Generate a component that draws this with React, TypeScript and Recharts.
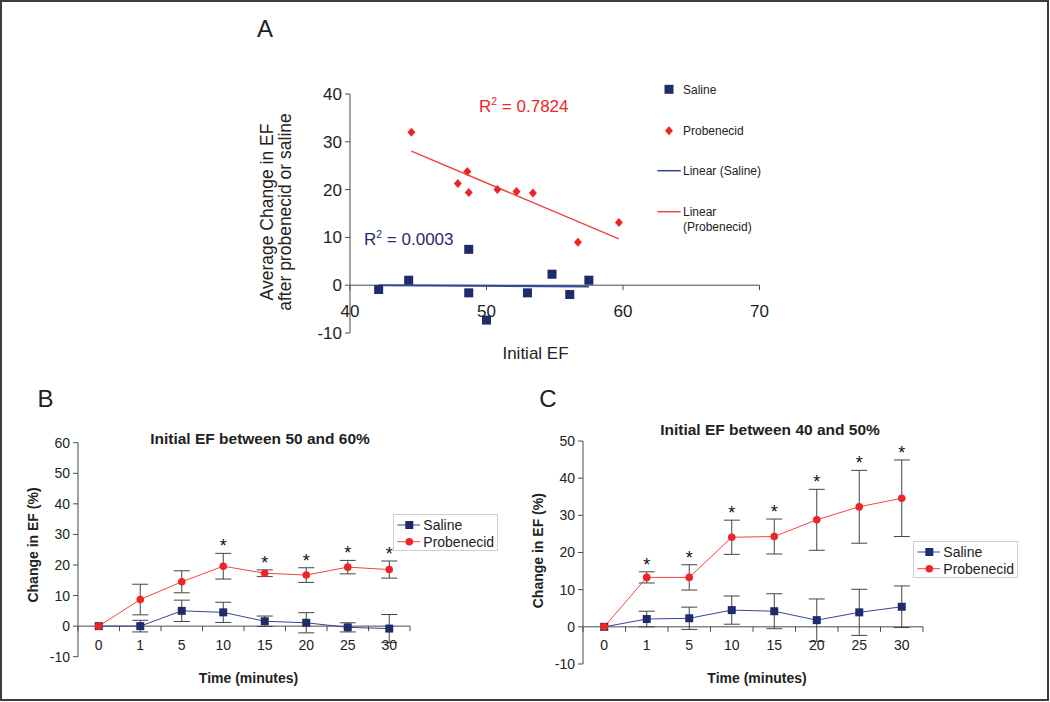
import React from 'react';
import {
  ScatterChart,
  Scatter,
  ComposedChart,
  Line,
  ErrorBar,
  XAxis,
  YAxis,
  ReferenceLine,
  Legend,
} from 'recharts';

const FONT = '"Liberation Sans", Arial, sans-serif';
const NAVY = '#1f2c6c';
const NAVY_LINE = '#34469a';
const RED = '#ee2526';
const RED_LINE = '#f04545';
const AXIS = '#4a4a4a';
const TXT = '#222';

// Panel A - scatter of initial EF vs average change
const SAL_EF = [42.1, 44.3, 48.7, 48.7, 50.0, 53.0, 54.8, 56.1, 57.5];
const SAL_CHANGE = [-0.9, 1.05, 7.5, -1.6, -7.3, -1.6, 2.3, -1.95, 1.05];
const PRO_EF = [44.5, 47.9, 48.6, 48.7, 50.8, 52.2, 53.4, 56.7, 59.7];
const PRO_CHANGE = [32.0, 21.3, 23.8, 19.4, 20.0, 19.6, 19.3, 9.0, 13.1];
const A_X_TICKS = [40, 50, 60, 70];
const A_Y_TICKS = [-10, 0, 10, 20, 30, 40];

// Panels B and C - time course
const TIME = ['0', '1', '5', '10', '15', '20', '25', '30'];

const B_SAL = [0, 0, 5.0, 4.5, 1.6, 1.1, -0.4, -0.8];
const B_SAL_ERR = [0, 1.9, 3.5, 3.3, 1.7, 3.3, 1.5, 4.6];
const B_PRO = [0, 8.7, 14.5, 19.6, 17.3, 16.7, 19.3, 18.5];
const B_PRO_ERR = [0, 5.0, 3.6, 4.2, 1.1, 2.4, 2.2, 2.8];
const B_SIG = [false, false, false, true, true, true, true, true];
const B_Y_TICKS = [-10, 0, 10, 20, 30, 40, 50, 60];

const C_SAL = [0, 2.1, 2.3, 4.5, 4.2, 1.8, 3.9, 5.4];
const C_SAL_ERR = [0, 2.1, 3.0, 3.8, 4.7, 5.7, 6.2, 5.6];
const C_PRO = [0, 13.3, 13.3, 24.1, 24.3, 28.8, 32.3, 34.6];
const C_PRO_ERR = [0, 1.5, 3.4, 4.6, 4.7, 8.2, 9.8, 10.3];
const C_SIG = [false, true, true, true, true, true, true, true];
const C_Y_TICKS = [-10, 0, 10, 20, 30, 40, 50];

const toPoints = (xs: number[], ys: number[]) => xs.map((x, i) => ({ x, y: ys[i] }));

// least squares trend, drawn between the smallest and largest x
const trend = (xs: number[], ys: number[]) => {
  const n = xs.length;
  const mx = xs.reduce((a, b) => a + b, 0) / n;
  const my = ys.reduce((a, b) => a + b, 0) / n;
  let sxy = 0;
  let sxx = 0;
  xs.forEach((x, i) => {
    sxy += (x - mx) * (ys[i] - my);
    sxx += (x - mx) * (x - mx);
  });
  const k = sxy / sxx;
  const x0 = Math.min(...xs);
  const x1 = Math.max(...xs);
  return [
    { x: x0, y: my + k * (x0 - mx) },
    { x: x1, y: my + k * (x1 - mx) },
  ];
};

const timeRows = (sal: number[], salErr: number[], pro: number[], proErr: number[], sig: boolean[]) =>
  TIME.map((t, i) => ({
    t,
    sal: sal[i],
    salErr: salErr[i],
    pro: pro[i],
    proErr: proErr[i],
    star: sig[i] ? pro[i] + proErr[i] : null,
  }));

const salinePts = toPoints(SAL_EF, SAL_CHANGE);
const probPts = toPoints(PRO_EF, PRO_CHANGE);
const bData = timeRows(B_SAL, B_SAL_ERR, B_PRO, B_PRO_ERR, B_SIG);
const cData = timeRows(C_SAL, C_SAL_ERR, C_PRO, C_PRO_ERR, C_SIG);

// x axis drawn through y = 0, Excel style
const ZeroAxisTick = (props: any) => {
  const { x, y, payload, shift, band, last, gap, size } = props;
  const zy = y - shift;
  const tx = band ? x - band / 2 : x;
  return (
    <g>
      <line x1={tx} x2={tx} y1={zy} y2={zy + 5} stroke={AXIS} />
      {band && payload.value === last ? (
        <line x1={x + band / 2} x2={x + band / 2} y1={zy} y2={zy + 5} stroke={AXIS} />
      ) : null}
      <text
        x={x}
        y={zy + gap}
        textAnchor="middle"
        dominantBaseline="central"
        fontSize={size}
        fill={TXT}
        fontFamily={FONT}
      >
        {payload.value}
      </text>
    </g>
  );
};

const SquareShape = (p: any) => (
  <rect x={p.cx - 4.5} y={p.cy - 4.5} width={9} height={9} fill={NAVY} />
);
const DiamondShape = (p: any) => (
  <path
    d={`M${p.cx},${p.cy - 4.5}L${p.cx + 4},${p.cy}L${p.cx},${p.cy + 4.5}L${p.cx - 4},${p.cy}Z`}
    fill={RED}
  />
);

const squareDot = (p: any) => (
  <rect key={`sq-${p.index}`} x={p.cx - 4} y={p.cy - 4} width={8} height={8} fill={NAVY} />
);
const circleDot = (p: any) => (
  <circle key={`ci-${p.index}`} cx={p.cx} cy={p.cy} r={3.8} fill={RED} />
);

const starLabel = (p: any) => {
  if (p.value == null || p.x == null || p.y == null) return <g key={`st-${p.index}`} />;
  return (
    <text
      key={`st-${p.index}`}
      x={p.x}
      y={p.y - 1}
      textAnchor="middle"
      fontSize={18}
      fill="#111"
      fontFamily={FONT}
    >
      *
    </text>
  );
};

const LegendA = () => (
  <svg width={130} height={160} style={{ fontFamily: FONT }}>
    <rect x={9.5} y={4.8} width={9} height={9} fill={NAVY} />
    <text x={28} y={13.5} fontSize={12} fill={TXT}>Saline</text>
    <path d="M14,46.2L18,50.7L14,55.2L10,50.7Z" fill={RED} />
    <text x={28} y={55} fontSize={12} fill={TXT}>Probenecid</text>
    <line x1={2.3} x2={25.7} y1={90.7} y2={90.7} stroke={NAVY_LINE} strokeWidth={1.5} />
    <text x={28} y={95} fontSize={12} fill={TXT}>Linear (Saline)</text>
    <line x1={2.3} x2={25.7} y1={131.7} y2={131.7} stroke={RED_LINE} strokeWidth={1.5} />
    <text x={28} y={136} fontSize={12} fill={TXT}>Linear</text>
    <text x={28} y={150.5} fontSize={12} fill={TXT}>(Probenecid)</text>
  </svg>
);

const LegendTime = () => (
  <div
    style={{
      width: 105,
      height: 37,
      boxSizing: 'border-box',
      border: '1px solid #cfcfcf',
      background: '#fff',
    }}
  >
    <svg width={103} height={35} style={{ fontFamily: FONT, display: 'block' }}>
      <line x1={3.3} x2={26} y1={10} y2={10} stroke={NAVY_LINE} />
      <rect x={11.3} y={6} width={8} height={8} fill={NAVY} />
      <text x={29.3} y={15} fontSize={14} fill={TXT}>Saline</text>
      <line x1={3.3} x2={26} y1={26.7} y2={26.7} stroke={RED_LINE} />
      <circle cx={15.3} cy={26.7} r={3.8} fill={RED} />
      <text x={29.3} y={31.7} fontSize={14} fill={TXT}>Probenecid</text>
    </svg>
  </div>
);

const yAxisProps = (size: number) => ({
  type: 'number' as const,
  axisLine: { stroke: AXIS },
  tickLine: { stroke: AXIS },
  tickSize: 5,
  tickMargin: 3,
  interval: 0 as const,
  tick: { fontSize: size, fill: TXT, fontFamily: FONT },
});

const TimeChart = ({
  data,
  domain,
  ticks,
  plotH,
  band,
  margin,
  legendPos,
}: any) => (
  <ComposedChart width={margin.width} height={320} data={data} margin={margin.m}>
    <XAxis
      dataKey="t"
      type="category"
      scale="band"
      axisLine={false}
      tickLine={false}
      tickSize={0}
      tickMargin={0}
      height={30}
      interval={0}
      tick={
        <ZeroAxisTick
          shift={(plotH * (0 - domain[0])) / (domain[1] - domain[0])}
          band={band}
          last={TIME[TIME.length - 1]}
          gap={18.4}
          size={14}
        />
      }
    />
    <YAxis {...yAxisProps(14)} domain={domain} ticks={ticks} width={78} />
    <ReferenceLine y={0} stroke={AXIS} />
    <Line
      dataKey="sal"
      stroke={NAVY_LINE}
      strokeWidth={1}
      dot={squareDot}
      isAnimationActive={false}
    >
      <ErrorBar dataKey="salErr" width={8} stroke="#444" strokeWidth={1} direction="y" />
    </Line>
    <Line
      dataKey="pro"
      stroke={RED_LINE}
      strokeWidth={1}
      dot={circleDot}
      isAnimationActive={false}
    >
      <ErrorBar dataKey="proErr" width={8} stroke="#444" strokeWidth={1} direction="y" />
    </Line>
    <Line
      dataKey="star"
      stroke="none"
      dot={false}
      activeDot={false}
      legendType="none"
      label={starLabel}
      isAnimationActive={false}
    />
    <Legend
      layout="vertical"
      align="center"
      verticalAlign="middle"
      content={() => <LegendTime />}
      wrapperStyle={{ left: legendPos[0], top: legendPos[1], width: 105, height: 37 }}
    />
  </ComposedChart>
);

const textBase = { fontFamily: FONT, fill: TXT };

export default function App() {
  const salTrend = trend(SAL_EF, SAL_CHANGE);
  const proTrend = trend(PRO_EF, PRO_CHANGE);
  const aShift = (239 * 10) / 50;

  return (
    <div
      style={{
        position: 'absolute',
        left: 0,
        top: 0,
        width: 1050,
        height: 702,
        background: '#fff',
        overflow: 'hidden',
        fontFamily: FONT,
      }}
    >
      <div style={{ position: 'absolute', left: 250, top: 60 }}>
        <ScatterChart width={530} height={320} margin={{ top: 34, right: 20.5, bottom: 17, left: 0 }}>
          <XAxis
            type="number"
            dataKey="x"
            domain={[40, 70]}
            ticks={A_X_TICKS}
            axisLine={false}
            tickLine={false}
            tickSize={0}
            tickMargin={0}
            height={30}
            interval={0}
            tick={<ZeroAxisTick shift={aShift} gap={26.7} size={17} />}
          />
          <YAxis {...yAxisProps(17)} dataKey="y" domain={[-10, 40]} ticks={A_Y_TICKS} width={100} />
          <ReferenceLine y={0} stroke={AXIS} />
          <ReferenceLine segment={salTrend} stroke={NAVY_LINE} strokeWidth={2} />
          <ReferenceLine segment={proTrend} stroke={RED_LINE} strokeWidth={1.5} />
          <Scatter data={salinePts} shape={SquareShape} isAnimationActive={false} />
          <Scatter data={probPts} shape={DiamondShape} isAnimationActive={false} />
          <Legend
            layout="vertical"
            align="center"
            verticalAlign="middle"
            content={() => <LegendA />}
            wrapperStyle={{ left: 405, top: 20, width: 130, height: 160 }}
          />
        </ScatterChart>
      </div>

      <div style={{ position: 'absolute', left: 0, top: 380 }}>
        <TimeChart
          data={bData}
          domain={[-10, 60]}
          ticks={B_Y_TICKS}
          plotH={214}
          band={41.5}
          margin={{ width: 520, m: { top: 62.7, right: 110, bottom: 13.3, left: 0 } }}
          legendPos={[393, 134]}
        />
      </div>

      <div style={{ position: 'absolute', left: 505, top: 380 }}>
        <TimeChart
          data={cData}
          domain={[-10, 50]}
          ticks={C_Y_TICKS}
          plotH={223}
          band={42.5}
          margin={{ width: 530, m: { top: 61, right: 112, bottom: 6, left: 0 } }}
          legendPos={[407.7, 160.7]}
        />
      </div>

      <svg
        width={1050}
        height={702}
        style={{ position: 'absolute', left: 0, top: 0, pointerEvents: 'none' }}
      >
        <text x={265} y={37} textAnchor="middle" fontSize={24} {...textBase}>A</text>
        <text x={45.5} y={406.7} textAnchor="middle" fontSize={24} {...textBase}>B</text>
        <text x={548} y={406.7} textAnchor="middle" fontSize={24} {...textBase}>C</text>

        <text
          x={267}
          y={212}
          textAnchor="middle"
          dominantBaseline="central"
          fontSize={17.5}
          transform="rotate(-90 267 212)"
          {...textBase}
        >
          Average Change in EF
        </text>
        <text
          x={285}
          y={212}
          textAnchor="middle"
          dominantBaseline="central"
          fontSize={17.5}
          transform="rotate(-90 285 212)"
          {...textBase}
        >
          after probenecid or saline
        </text>
        <text x={535.5} y={353} textAnchor="middle" dominantBaseline="central" fontSize={17} {...textBase}>
          Initial EF
        </text>

        <text x={479} y={111.7} fontSize={17} fontFamily={FONT} fill={RED}>
          R<tspan dy={-7} fontSize={10.5}>2</tspan>
          <tspan dy={7}> = 0.7824</tspan>
        </text>
        <text x={364} y={245} fontSize={17} fontFamily={FONT} fill={NAVY}>
          R<tspan dy={-7} fontSize={10.5}>2</tspan>
          <tspan dy={7}> = 0.0003</tspan>
        </text>

        <text x={260} y={438} textAnchor="middle" dominantBaseline="central" fontSize={15.5} fontWeight="bold" {...textBase}>
          Initial EF between 50 and 60%
        </text>
        <text x={770} y={429} textAnchor="middle" dominantBaseline="central" fontSize={15.5} fontWeight="bold" {...textBase}>
          Initial EF between 40 and 50%
        </text>

        <text
          x={33}
          y={545}
          textAnchor="middle"
          dominantBaseline="central"
          fontSize={14}
          fontWeight="bold"
          transform="rotate(-90 33 545)"
          {...textBase}
        >
          Change in EF (%)
        </text>
        <text
          x={538}
          y={550.7}
          textAnchor="middle"
          dominantBaseline="central"
          fontSize={14}
          fontWeight="bold"
          transform="rotate(-90 538 550.7)"
          {...textBase}
        >
          Change in EF (%)
        </text>
        <text x={248.5} y={678} textAnchor="middle" dominantBaseline="central" fontSize={14} fontWeight="bold" {...textBase}>
          Time (minutes)
        </text>
        <text x={757} y={678} textAnchor="middle" dominantBaseline="central" fontSize={14} fontWeight="bold" {...textBase}>
          Time (minutes)
        </text>

        <rect x={1} y={1} width={1047} height={699} fill="none" stroke="#3d3d3d" strokeWidth={2} />
      </svg>
    </div>
  );
}
